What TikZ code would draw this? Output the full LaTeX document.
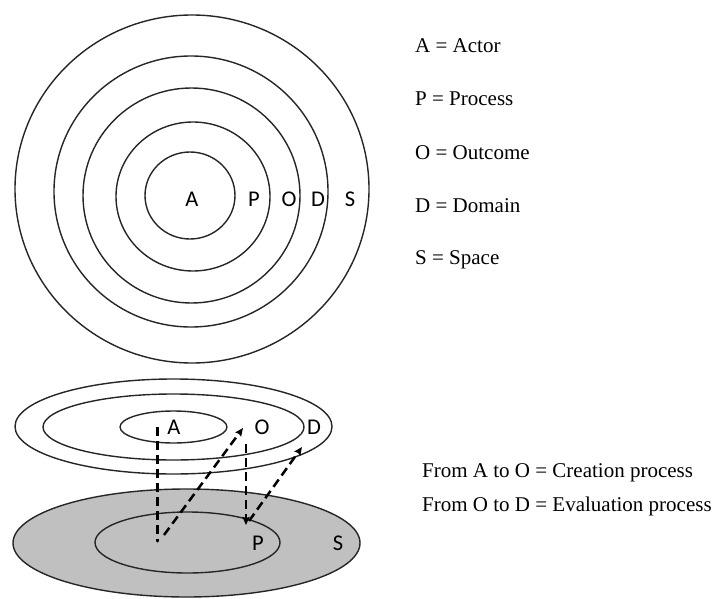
\documentclass[tikz,border=0pt]{standalone}
\usepackage{fontspec}
\setmainfont{Liberation Serif}
\newfontfamily\labfont{Carlito}
\usetikzlibrary{arrows.meta}
\definecolor{sgray}{RGB}{192,192,192}
\begin{document}
\begin{tikzpicture}[x=1pt,y=-1pt,
  ring/.style={draw=black!85,line width=1.4pt},
  lbl/.style={font=\labfont\fontsize{22.5}{26}\selectfont, inner sep=0pt, anchor=base},
  keytext/.style={font=\fontsize{21}{25}\selectfont, anchor=base west, inner sep=0pt},
  dsh/.style={line width=2.5pt, dash pattern=on 9pt off 5pt},
  arr/.style={dsh,-{Stealth[length=8pt,width=7pt,inset=1pt]}}]
\useasboundingbox (0,0) rectangle (728,599);
% top concentric circles
\draw[ring] (192,189) ellipse [x radius=177, y radius=174];
\draw[ring] (191,191.5) ellipse [x radius=137, y radius=135.5];
\draw[ring] (191.5,195.5) ellipse [x radius=108.5, y radius=107.5];
\draw[ring] (193,196.5) ellipse [x radius=77, y radius=74.5];
\draw[ring] (190,195.5) ellipse [x radius=45, y radius=43.5];
\node[lbl] (tA) at (192,206) {A};
\node[lbl] (tP) at (254,206) {P};
\node[lbl] (tO) at (289,206) {O};
\node[lbl] (tD) at (318,206) {D};
\node[lbl] (tS) at (350,206) {S};
% legend
\node[keytext] (k1) at (415,53) {A = Actor};
\node[keytext] (k2) at (415,106) {P = Process};
\node[keytext] (k3) at (415,159) {O = Outcome};
\node[keytext] (k4) at (415,212) {D = Domain};
\node[keytext] (k5) at (415,264) {S = Space};
\node[keytext] (k6) at (422,477) {From A to O = Creation process};
\node[keytext] (k7) at (422,511) {From O to D = Evaluation process};
% bottom: upper plane
\draw[ring] (173.5,426.5) ellipse [x radius=158.5, y radius=47.5];
\draw[ring] (173.5,427) ellipse [x radius=130.5, y radius=33];
\draw[ring] (173.5,427) ellipse [x radius=53.5, y radius=16];
\node[lbl] (bA) at (174,434) {A};
\node[lbl] (bO) at (262,434) {O};
\node[lbl] (bD) at (314,434) {D};
% bottom: space plane
\draw[ring, fill=sgray] (186.5,543) ellipse [x radius=173.5, y radius=54];
\draw[ring] (187.5,542.5) ellipse [x radius=92.5, y radius=30.5];
\node[lbl] (bP) at (258,550) {P};
\node[lbl] (bS) at (338,550) {S};
% connectors
\coordinate (a1) at (157.5,427);
\coordinate (a2) at (157.5,541);
\coordinate (o1) at (164,535);
\coordinate (o2) at (243,428);
\coordinate (p1) at (246,444);
\coordinate (p2) at (246,525);
\coordinate (d1) at (249,521);
\coordinate (d2) at (302,447);
\draw[dsh] (a1) -- (a2);
\fill (a2) circle [radius=1.5];
\draw[arr] (o1) -- (o2);
\draw[arr] (p1) -- (p2);
\draw[arr] (d1) -- (d2);
\end{tikzpicture}
\end{document}
